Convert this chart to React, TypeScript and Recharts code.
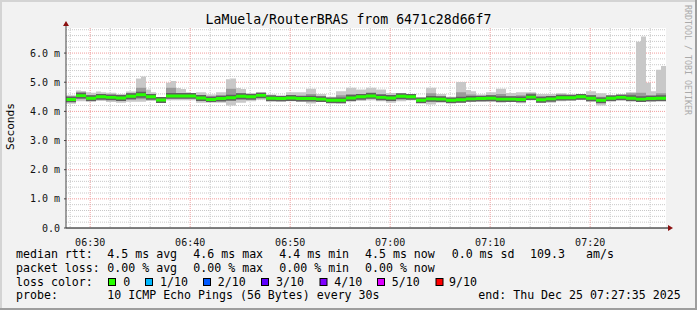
import React from 'react';
import { ComposedChart, Area, XAxis, YAxis, CartesianGrid, ReferenceDot } from 'recharts';

// time axis: minutes after 06:00, window 06:27:35 .. 07:27:35, 30 s steps
const START_MIN = 27 + 35 / 60;
const END_MIN = START_MIN + 60;
const STEP_MIN = 0.5;

// per-minute readings (ms)
const MEDIAN = [
  4.41, 4.54, 4.45, 4.50, 4.48, 4.46, 4.52, 4.57, 4.50, 4.39,
  4.53, 4.53, 4.53, 4.46, 4.41, 4.44, 4.47, 4.52, 4.50, 4.55,
  4.45, 4.44, 4.46, 4.44, 4.44, 4.42, 4.38, 4.38, 4.46, 4.50,
  4.53, 4.48, 4.46, 4.52, 4.50, 4.38, 4.43, 4.42, 4.38, 4.40,
  4.43, 4.44, 4.45, 4.42, 4.42, 4.41, 4.49, 4.40, 4.43, 4.47,
  4.47, 4.50, 4.45, 4.38, 4.45, 4.48, 4.45, 4.42, 4.44, 4.45,
];
const MIN_RTT = [
  4.26, 4.35, 4.35, 4.36, 4.32, 4.30, 4.33, 4.33, 4.36, 4.30,
  4.38, 4.38, 4.38, 4.30, 4.32, 4.30, 4.20, 4.30, 4.35, 4.40,
  4.35, 4.38, 4.35, 4.33, 4.27, 4.33, 4.30, 4.27, 4.33, 4.36,
  4.38, 4.35, 4.30, 4.35, 4.38, 4.30, 4.24, 4.30, 4.30, 4.30,
  4.33, 4.35, 4.33, 4.30, 4.33, 4.28, 4.38, 4.30, 4.30, 4.35,
  4.38, 4.40, 4.33, 4.20, 4.36, 4.38, 4.38, 4.36, 4.36, 4.38,
];
const MID_LO = [
  4.33, 4.42, 4.40, 4.42, 4.40, 4.38, 4.40, 4.42, 4.42, 4.34,
  4.45, 4.45, 4.45, 4.38, 4.36, 4.37, 4.36, 4.40, 4.42, 4.46,
  4.40, 4.40, 4.40, 4.38, 4.36, 4.37, 4.33, 4.32, 4.40, 4.42,
  4.45, 4.40, 4.38, 4.42, 4.42, 4.33, 4.35, 4.35, 4.33, 4.35,
  4.38, 4.38, 4.38, 4.36, 4.37, 4.35, 4.42, 4.34, 4.36, 4.40,
  4.42, 4.45, 4.38, 4.30, 4.40, 4.42, 4.40, 4.38, 4.40, 4.40,
];
const MID_HI = [
  4.50, 4.66, 4.55, 4.58, 4.56, 4.55, 4.62, 4.81, 4.60, 4.44,
  4.81, 4.62, 4.60, 4.55, 4.50, 4.55, 4.78, 4.62, 4.58, 4.60,
  4.52, 4.48, 4.55, 4.52, 4.60, 4.50, 4.45, 4.55, 4.60, 4.60,
  4.65, 4.60, 4.55, 4.58, 4.53, 4.44, 4.62, 4.50, 4.45, 4.66,
  4.58, 4.52, 4.55, 4.60, 4.52, 4.55, 4.62, 4.52, 4.52, 4.57,
  4.53, 4.55, 4.55, 4.50, 4.50, 4.52, 4.62, 4.64, 4.55, 4.62,
];
// per-30s maximum (ms)
const MAX_RTT = [
  4.55, 4.55, 4.72, 4.70, 4.66, 4.64, 4.68, 4.66, 4.64, 4.64,
  4.60, 4.60, 4.68, 4.68, 5.13, 5.20, 4.75, 4.66, 4.48, 4.48,
  4.98, 5.04, 4.80, 4.77, 4.66, 4.60, 4.66, 4.66, 4.58, 4.58,
  4.66, 4.66, 5.10, 5.13, 4.80, 4.77, 4.63, 4.63, 4.63, 4.63,
  4.58, 4.58, 4.50, 4.50, 4.66, 4.66, 4.66, 4.66, 4.78, 4.78,
  4.60, 4.60, 4.50, 4.50, 4.69, 4.69, 4.81, 4.81, 4.75, 4.75,
  4.81, 4.81, 4.75, 4.75, 4.63, 4.63, 4.63, 4.63, 4.55, 4.55,
  4.48, 4.48, 4.81, 4.81, 4.60, 4.60, 4.50, 4.50, 5.01, 5.01,
  4.73, 4.69, 4.58, 4.58, 4.66, 4.66, 4.78, 4.78, 4.63, 4.63,
  4.66, 4.66, 4.66, 4.66, 4.60, 4.60, 4.60, 4.60, 4.62, 4.62,
  4.58, 4.58, 4.58, 4.58, 4.69, 4.69, 4.62, 4.62, 4.52, 4.52,
  4.55, 4.55, 4.66, 4.66, 6.39, 6.57, 4.98, 4.69, 5.43, 5.56,
];

const X_TICKS = [30, 40, 50, 60, 70, 80];
const X_TICK_LABELS = ['06:30', '06:40', '06:50', '07:00', '07:10', '07:20'];
const Y_TICKS = [0, 1, 2, 3, 4, 5, 6];
const Y_TICK_LABELS = ['0.0', '1.0 m', '2.0 m', '3.0 m', '4.0 m', '5.0 m', '6.0 m'];
const Y_MAX = 6.86;

const MAJOR_X = [30, 40, 50, 60, 70, 80];
const MINOR_X = [28, 32, 34, 36, 38, 42, 44, 46, 48, 52, 54, 56, 58, 62, 64, 66, 68, 72, 74, 76, 78, 82, 84, 86];
const MAJOR_Y = [1, 2, 3, 4, 5, 6];
const MINOR_Y = [
  0.2, 0.4, 0.6, 0.8, 1.2, 1.4, 1.6, 1.8, 2.2, 2.4, 2.6, 2.8, 3.2, 3.4, 3.6, 3.8,
  4.2, 4.4, 4.6, 4.8, 5.2, 5.4, 5.6, 5.8, 6.2, 6.4, 6.6, 6.8,
];

const MEDIAN_HALF = 0.05; // half-height of the loss-coloured median band
const CORE_HALF = 0.1;

const LOSS_COLORS = [
  { label: '0', color: '#26ff00' },
  { label: '1/10', color: '#00b8ff' },
  { label: '2/10', color: '#0059ff' },
  { label: '3/10', color: '#5e00ff' },
  { label: '4/10', color: '#7e00ff' },
  { label: '5/10', color: '#dd00ff' },
  { label: '9/10', color: '#ff0000' },
];
const LOSS_SQUARE_X = [108.5, 145.5, 203.5, 261.5, 320, 377.5, 436];
const LOSS_LABEL_X = [123.3, 160, 217.7, 276, 334.3, 391.7, 449];

const LEGEND_LINES: { y: number; items: [number, string][] }[] = [
  { y: 258.3, items: [[16, 'median rtt:'], [107.3, '4.5 ms avg'], [193.3, '4.6 ms max'], [279.3, '4.4 ms min'], [365, '4.5 ms now'], [451.7, '0.0 ms sd'], [530, '109.3'], [586, 'am/s']] },
  { y: 272, items: [[16, 'packet loss:'], [107.3, '0.00 % avg'], [193.3, '0.00 % max'], [279.3, '0.00 % min'], [365, '0.00 % now']] },
  { y: 285.7, items: [[16, 'loss color:']] },
  { y: 299.3, items: [[16, 'probe:'], [107.3, '10 ICMP Echo Pings (56 Bytes) every 30s'], [478.3, 'end: Thu Dec 25 07:27:35 2025']] },
];

const rows = MAX_RTT.map((mx, k) => {
  const i = Math.floor(k / 2);
  const m = MEDIAN[i];
  return {
    t: START_MIN + k * STEP_MIN,
    smoke: [MIN_RTT[i], mx],
    mid: [MID_LO[i], MID_HI[i]],
    core: [m - CORE_HALF, m + CORE_HALF],
    med: [m - MEDIAN_HALF, m + MEDIAN_HALF],
  };
});
const data = [...rows, { ...rows[rows.length - 1], t: END_MIN }];

const MONO = "'DejaVu Sans Mono', monospace";

const XArrow = (p: any) => (
  <g>
    <line x1={p.cx} y1={p.cy} x2={p.cx + 3} y2={p.cy} stroke="#000" />
    <path d={`M${p.cx + 2},${p.cy - 3} L${p.cx + 7},${p.cy} L${p.cx + 2},${p.cy + 3} Z`} fill="#8b1010" />
  </g>
);
const YArrow = (p: any) => (
  <g>
    <line x1={p.cx} y1={p.cy} x2={p.cx} y2={p.cy - 3} stroke="#444" />
    <path d={`M${p.cx - 3},${p.cy - 2} L${p.cx},${p.cy - 7} L${p.cx + 3},${p.cy - 2} Z`} fill="#8b1010" />
  </g>
);

export default function App() {
  return (
    <div style={{ position: 'absolute', left: 0, top: 0, width: 697, height: 310, background: '#f2f2f2', overflow: 'hidden' }}>
      <ComposedChart width={697} height={310} data={data} margin={{ top: 28, right: 31, bottom: 62, left: 0 }}>
        <CartesianGrid fill="#ffffff" stroke="#c8c8c8" strokeDasharray="1 1" horizontalValues={MINOR_Y} verticalValues={MINOR_X} />
        <CartesianGrid fill="none" stroke="#f19c9c" strokeDasharray="1 1" horizontalValues={MAJOR_Y} verticalValues={MAJOR_X} />
        <XAxis
          type="number"
          dataKey="t"
          domain={[START_MIN, END_MIN]}
          allowDataOverflow
          ticks={X_TICKS}
          interval={0}
          tickFormatter={(v: number) => X_TICK_LABELS[X_TICKS.indexOf(v)]}
          tick={{ fontFamily: MONO, fontSize: 10, fill: '#111' }}
          tickLine={false}
          tickMargin={5}
          height={20}
          axisLine={{ stroke: '#000' }}
        />
        <YAxis
          type="number"
          domain={[0, Y_MAX]}
          allowDataOverflow
          ticks={Y_TICKS}
          interval={0}
          tickFormatter={(v: number) => Y_TICK_LABELS[Y_TICKS.indexOf(v)]}
          tick={{ fontFamily: MONO, fontSize: 10, fill: '#111' }}
          tickLine={{ stroke: '#444' }}
          tickSize={2}
          tickMargin={4}
          width={66}
          axisLine={{ stroke: '#444' }}
        />
        <Area type="stepAfter" dataKey="smoke" stroke="none" fill="#c8c8c8" fillOpacity={1} isAnimationActive={false} dot={false} activeDot={false} />
        <Area type="stepAfter" dataKey="mid" stroke="none" fill="#9a9a9a" fillOpacity={1} isAnimationActive={false} dot={false} activeDot={false} />
        <Area type="stepAfter" dataKey="core" stroke="none" fill="#606060" fillOpacity={1} isAnimationActive={false} dot={false} activeDot={false} />
        <Area type="stepAfter" dataKey="med" stroke="none" fill="#26ff00" fillOpacity={1} isAnimationActive={false} dot={false} activeDot={false} />
        <ReferenceDot x={END_MIN} y={0} ifOverflow="visible" shape={XArrow} />
        <ReferenceDot x={START_MIN} y={Y_MAX} ifOverflow="visible" shape={YArrow} />
      </ComposedChart>
      <svg width={697} height={310} style={{ position: 'absolute', left: 0, top: 0, pointerEvents: 'none' }}>
        <rect x={0} y={0} width={697} height={2} fill="#d4d4d4" />
        <rect x={0} y={0} width={2} height={310} fill="#d4d4d4" />
        <rect x={0} y={308} width={697} height={2} fill="#9e9e9e" />
        <rect x={695} y={0} width={2} height={310} fill="#9e9e9e" />
        <text x={348.5} y={24} textAnchor="middle" fontFamily={MONO} fontSize={13.2} fill="#000">
          LaMuela/RouterBRAS from 6471c28d66f7
        </text>
        <text x={13.5} y={126.5} textAnchor="middle" fontFamily={MONO} fontSize={11.2} fill="#000" transform="rotate(-90 13.5 126.5)">
          Seconds
        </text>
        <text x={685} y={5} textAnchor="start" fontFamily={MONO} fontSize={8.3} fill="#aaaaaa" transform="rotate(90 685 5)">
          RRDTOOL / TOBI OETIKER
        </text>
        {LEGEND_LINES.map((ln, li) =>
          ln.items.map(([x, s], j) => (
            <text key={`${li}-${j}`} x={x} y={ln.y} fontFamily={MONO} fontSize={11.6} fill="#000" style={{ whiteSpace: 'pre' }}>
              {s}
            </text>
          ))
        )}
        {LOSS_COLORS.map((c, i) => (
          <g key={c.label}>
            <rect x={LOSS_SQUARE_X[i]} y={278.5} width={7} height={7} fill={c.color} stroke="#000" strokeWidth={1} />
            <text x={LOSS_LABEL_X[i]} y={285.7} fontFamily={MONO} fontSize={11.6} fill="#000">
              {c.label}
            </text>
          </g>
        ))}
      </svg>
    </div>
  );
}
